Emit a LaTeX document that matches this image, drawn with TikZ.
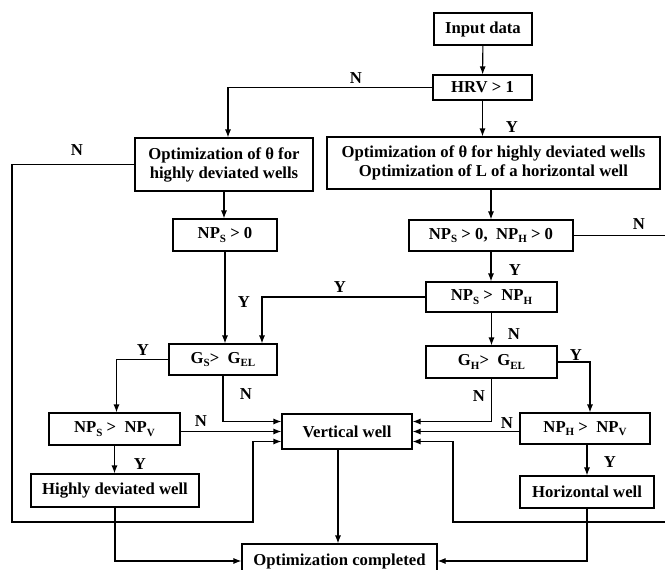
\documentclass[tikz,border=0pt]{standalone}
\usepackage{fontspec}
\setmainfont{Liberation Serif}
\usetikzlibrary{arrows.meta}
\tikzset{
  blk/.style={draw, line width=1.1pt, inner sep=1pt, align=center,
    font=\fontsize{16.7}{19}\selectfont\bfseries},
  lbl/.style={inner sep=0pt, font=\fontsize{16.7}{19}\selectfont\bfseries},
}
\newcommand{\lo}[1]{\raisebox{-0.45ex}{\fontsize{11}{11}\selectfont #1}}
\begin{document}
\begin{tikzpicture}[x=1pt,y=-1pt,>={Latex[length=8pt,width=6pt]},line width=1.1pt]
\useasboundingbox (0,0) rectangle (665,570);
% boxes
\node[blk,minimum width=98,minimum height=32] (inp) at (483,29) {Input data};
\node[blk,minimum width=99,minimum height=25] (hrv) at (482.5,87.5) {HRV > 1};
\node[blk,minimum width=178,minimum height=53] (optL) at (224,164.5) {Optimization of θ for\\highly deviated wells};
\node[blk,minimum width=333,minimum height=52] (optR) at (493.5,163) {Optimization of θ for highly deviated wells\\Optimization of L of a horizontal well};
\node[blk,minimum width=104,minimum height=32] (npS) at (225,235) {NP\lo{S} > 0};
\node[blk,minimum width=164,minimum height=31] (npSH0) at (491,235.5) {NP\lo{S} > 0,~ NP\lo{H} > 0};
\node[blk,minimum width=131,minimum height=30] (npSH) at (491.5,297) {NP\lo{S} >~ NP\lo{H}};
\node[blk,minimum width=108,minimum height=31] (gS) at (223,359.5) {G\lo{S}>~ G\lo{EL}};
\node[blk,minimum width=131,minimum height=32] (gH) at (491.5,362) {G\lo{H}>~ G\lo{EL}};
\node[blk,minimum width=131,minimum height=32] (npSV) at (114.5,429) {NP\lo{S} >~ NP\lo{V}};
\node[blk,minimum width=130,minimum height=35] (vert) at (347,431.5) {Vertical well};
\node[blk,minimum width=130,minimum height=31] (npHV) at (585,428.5) {NP\lo{H} >~ NP\lo{V}};
\node[blk,minimum width=168,minimum height=33] (hdw) at (115,490.5) {Highly deviated well};
\node[blk,minimum width=134,minimum height=32] (hw) at (587,492) {Horizontal well};
\node[blk,minimum width=195,minimum height=34] (done) at (339.5,561) {Optimization completed};

% connectors
\draw[->] (inp) -- (hrv);
\draw[->] (hrv.west) -| ([xshift=4pt]optL.north);
\draw[->] (hrv) -- (hrv |- optR.north);
\draw[->] (optL) -- (optL.south |- npS.north);
\draw[->] (optR.south -| npSH0) -- (npSH0.north);
\draw[->] (npS) -- (npS.south |- gS.north);
\draw[->] (npSH0) -- (npSH0.south |- npSH.north);
\draw[->] (npSH.west) -| ([xshift=39pt]gS.north);
\draw[->] (npSH) -- (npSH.south |- gH.north);
\draw[->] (gS.west) -| ([xshift=2pt]npSV.north);
\draw[->] (gS.south) |- ([yshift=10pt]vert.west);
\draw[->] (vert.west -| npSV.east) -- (vert.west);
\draw[->] (npSV.south) -- (npSV.south |- hdw.north);
\draw[->] (optL.west) -| (12,522) -| (253,441.5) -- ([yshift=-10pt]vert.west);
\draw[->] (gH.east) -| ([xshift=5pt]npHV.north);
\draw[->] (gH.south) |- ([yshift=10pt]vert.east);
\draw[->] (npHV.west |- vert.east) -- (vert.east);
\draw[->] ([xshift=2pt]npHV.south) -- ([xshift=2pt]npHV.south |- hw.north);
\draw[->] (npSH0.east) -| (672,522) -| (453,441.5) -- ([yshift=-10pt]vert.east);
\draw[->] ([xshift=-9pt]vert.south) -- ([xshift=-9pt]vert.south |- done.north);
\draw[->] (hdw.south) |- (done.west);
\draw[->] (hw.south) |- (done.east);

% labels
\node[lbl] (n1) at (356,78) {N};
\node[lbl] (y1) at (512,127) {Y};
\node[lbl] (n2) at (77,150) {N};
\node[lbl] (y2) at (244,302) {Y};
\node[lbl] (y3) at (340,287) {Y};
\node[lbl] (y4) at (143,350) {Y};
\node[lbl] (n3) at (246,394) {N};
\node[lbl] (n4) at (201,421) {N};
\node[lbl] (y5) at (140,464) {Y};
\node[lbl] (n5) at (639,224) {N};
\node[lbl] (y6) at (515,270) {Y};
\node[lbl] (n6) at (514,334) {N};
\node[lbl] (y7) at (576,355) {Y};
\node[lbl] (n7) at (479,396) {N};
\node[lbl] (n8) at (507,423) {N};
\node[lbl] (y8) at (610,462) {Y};
\end{tikzpicture}
\end{document}
